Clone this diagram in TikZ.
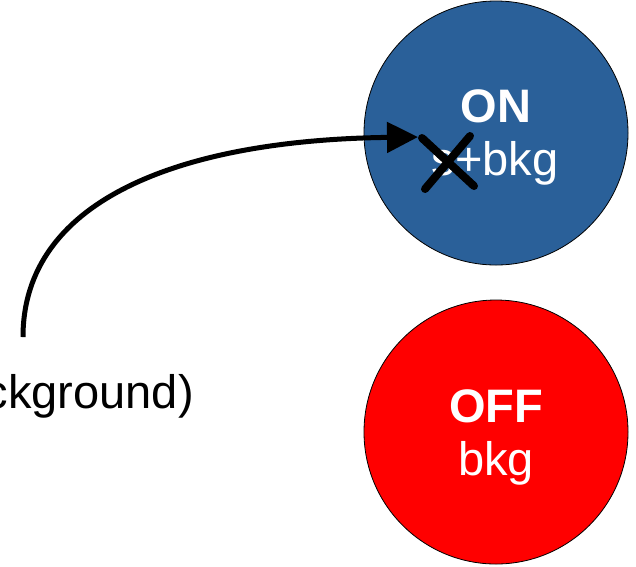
\documentclass[tikz,border=0pt]{standalone}
\usepackage{fontspec}
\setmainfont{Liberation Sans}
\usetikzlibrary{arrows.meta}
\definecolor{onblue}{HTML}{2A6099}
\definecolor{offred}{HTML}{FF0000}
\begin{document}
\begin{tikzpicture}[x=1pt,y=-1pt,
  state/.style={circle,draw=black,line width=0.8pt,minimum size=264pt,inner sep=0pt},
  lbl/.style={text=white,font=\fontsize{47}{56}\selectfont,anchor=base,inner sep=0pt},
  title/.style={lbl,font=\bfseries\fontsize{47}{56}\selectfont},
  conn/.style={line width=5pt,-{Triangle[length=31pt,width=30pt]}},
  cross/.style={line width=8pt,line cap=round}]
\useasboundingbox (0,0) rectangle (636,566);
\node[state,fill=onblue] (on) at (496,133) {};
\node[state,fill=offred] (off) at (496,432) {};
\node[title] (ontitle) at (496,122) {ON};
\node[lbl] (onsub) at (495,175) {s+bkg};
\node[title] (offtitle) at (496,422) {OFF};
\node[lbl] (offsub) at (496,475) {bkg};
\node[anchor=base east,inner sep=0pt,font=\fontsize{47}{56}\selectfont] (bg) at (194,408) {ckground)};
\coordinate (start) at (23,337);
\coordinate (tip) at (418,137);
\draw[conn] (start) .. controls (23,200) and (180,140) .. (tip);
\coordinate (xa) at (422,138);
\coordinate (xb) at (474,186);
\coordinate (xc) at (470,136);
\coordinate (xd) at (425,189);
\draw[cross] (xa) -- (xb);
\draw[cross] (xc) -- (xd);
\end{tikzpicture}
\end{document}
